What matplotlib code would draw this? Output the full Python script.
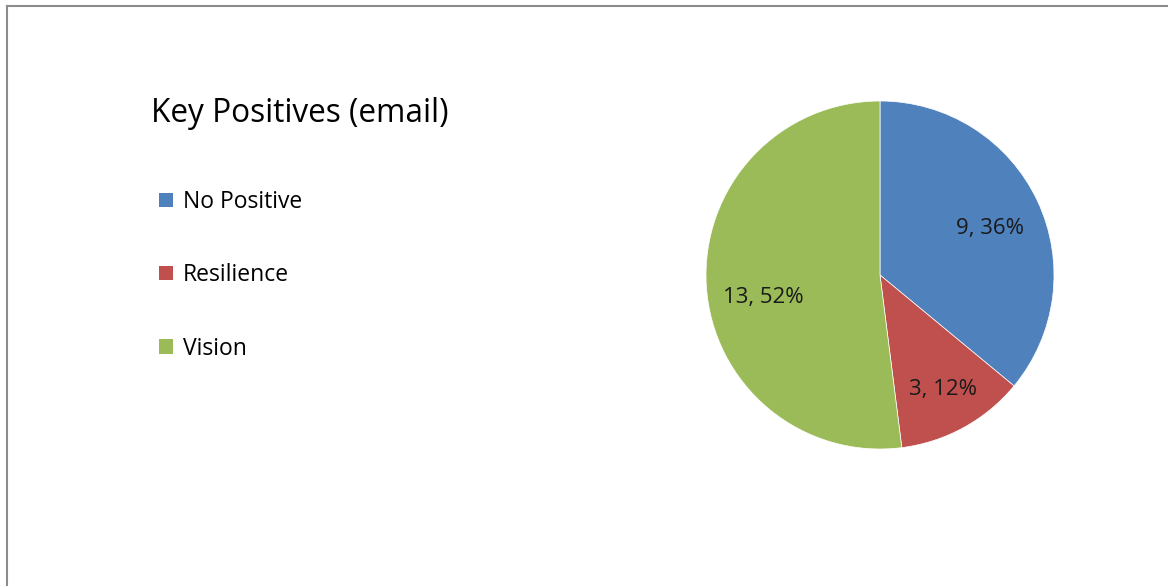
import matplotlib
matplotlib.use("Agg")
import matplotlib.pyplot as plt
from matplotlib.patches import Patch
from matplotlib.lines import Line2D

# Data
categories = ["No Positive", "Resilience", "Vision"]
counts = [9, 3, 13]
colors = ["#4F81BD", "#C0504D", "#9BBB59"]
title = "Key Positives (email)"

# label placement inside the pie (axes data units, pie radius = 1)
label_xy = [(0.63, 0.27), (0.36, -0.66), (-0.67, -0.13)]

plt.rcParams["font.family"] = ["Open Sans", "DejaVu Sans"]

W, H = 1168, 586
fig = plt.figure(figsize=(W / 100, H / 100), dpi=100)

# chart border (left + top visible)
fig.add_artist(Line2D([7 / W, 7 / W], [0, 1 - 6 / H], color="#8c8c8c", lw=1.5,
                      transform=fig.transFigure))
fig.add_artist(Line2D([7 / W, 1], [1 - 6 / H, 1 - 6 / H], color="#8c8c8c", lw=1.5,
                      transform=fig.transFigure))

fig.text(151 / W, 1 - 114 / H, title, fontsize=22.8, va="center", ha="left", color="black")

# pie
cx, cy, r = 880, 275, 174
ax = fig.add_axes([(cx - r) / W, 1 - (cy + r) / H, 2 * r / W, 2 * r / H])
total = sum(counts)


def fmt(pct):
    n = int(round(pct * total / 100))
    return f"{n}, {pct:.0f}%"


wedges, texts, autotexts = ax.pie(counts, colors=colors, startangle=90, counterclock=False,
                                  autopct=fmt, pctdistance=0.7, radius=1,
                                  wedgeprops=dict(linewidth=0.5, edgecolor="white"),
                                  textprops=dict(fontsize=16, color="#1a1a1a"))
for t, (x, y) in zip(autotexts, label_xy):
    t.set_position((x, y))
ax.set_xlim(-1, 1)
ax.set_ylim(-1, 1)
ax.set_aspect("equal")

handles = [Patch(facecolor=c, edgecolor="none") for c in colors]
fig.legend(handles, categories, loc="upper left", bbox_to_anchor=(159 / W, 1 - 190 / H),
           frameon=False, fontsize=16.5, handlelength=0.6, handleheight=0.6,
           handletextpad=0.45, labelspacing=2.15, borderaxespad=0, borderpad=0)

fig.savefig("out.png", dpi=100)
